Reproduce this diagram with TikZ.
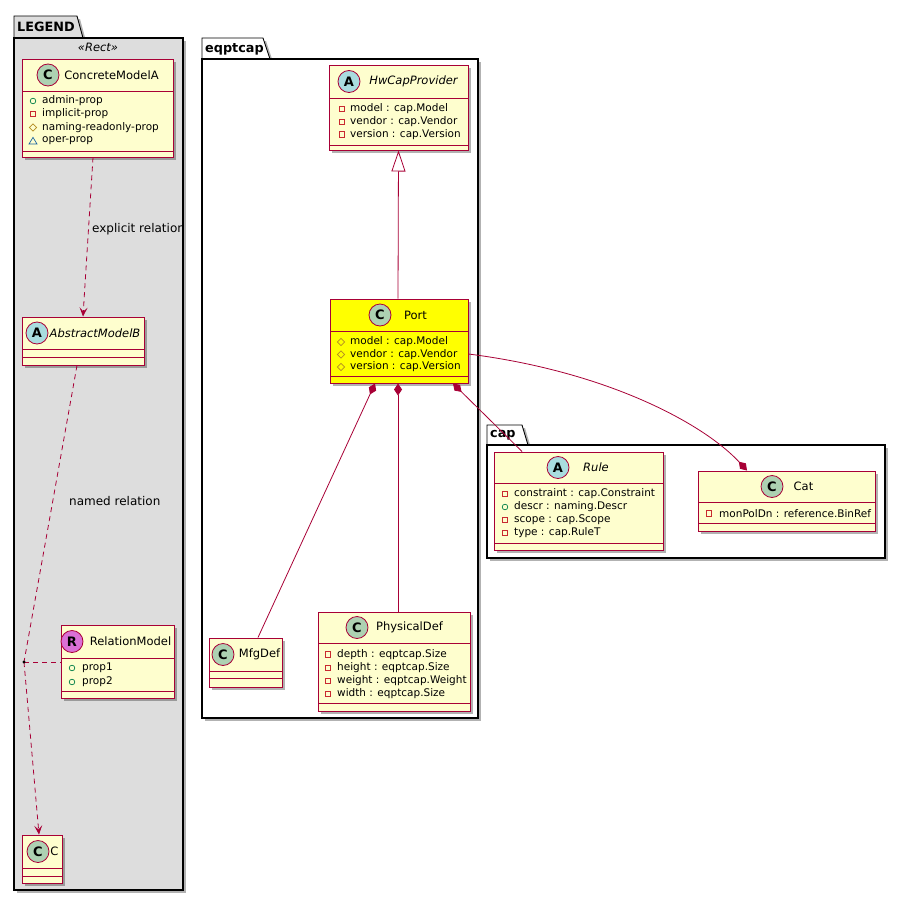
\documentclass[tikz,border=0pt]{standalone}
\usepackage{fontspec}
\setmainfont{DejaVu Sans}
\usetikzlibrary{arrows.meta,shadows}
\definecolor{umlborder}{HTML}{A80036}
\definecolor{umlfill}{HTML}{FEFECE}
\definecolor{spotC}{HTML}{ADD1B2}
\definecolor{spotA}{HTML}{A9DCDF}
\definecolor{spotR}{HTML}{DA70D6}
\definecolor{legendgray}{HTML}{DDDDDD}
\definecolor{pubc}{HTML}{038048}
\definecolor{privc}{HTML}{C82930}
\definecolor{protc}{HTML}{B38D22}
\definecolor{pkgc}{HTML}{1963A0}
\definecolor{portyellow}{HTML}{FFFF00}
\newcommand\umlMem{\fontsize{10.5}{12}\selectfont}
\newcommand\umlName{\fontsize{11.5}{13}\selectfont}
\newcommand\umlLbl{\fontsize{12}{14}\selectfont}
\newcommand\umlPkg{\fontsize{12.8}{14}\selectfont\bfseries}
\newcommand\umlSpot{\fontsize{13}{14}\selectfont\bfseries}
\newcommand\vpub[2]{\draw[draw=pubc,line width=0.7pt] (#1,#2) circle (2.8);}
\newcommand\vpriv[2]{\draw[draw=privc,line width=0.7pt] ({#1-2.8},{#2-2.8}) rectangle ({#1+2.8},{#2+2.8});}
\newcommand\vprot[2]{\draw[draw=protc,line width=0.7pt] ({#1},{#2-3.6}) -- ({#1+3.6},{#2}) -- ({#1},{#2+3.6}) -- ({#1-3.6},{#2}) -- cycle;}
\newcommand\vpkg[2]{\draw[draw=pkgc,line width=0.7pt] ({#1},{#2-3.6}) -- ({#1+4},{#2+3}) -- ({#1-4},{#2+3}) -- cycle;}
\tikzset{
  shade/.style={drop shadow={shadow xshift=3pt,shadow yshift=-3pt,opacity=0.3,fill=black}},
  umlclass/.style={draw=umlborder,fill=umlfill,line width=1pt,inner sep=0pt,shade},
  sepline/.style={draw=umlborder,line width=0.9pt},
  spot/.style={circle,draw=umlborder,line width=0.8pt,minimum size=22pt,inner sep=0pt,font=\umlSpot},
  clsname/.style={inner sep=0pt,font=\umlName},
  member/.style={anchor=west,inner sep=0pt,font=\umlMem},
  pkgbody/.style={draw=black,line width=1.3pt,inner sep=0pt,shade},
  pkgtab/.style={draw=black,line width=0.9pt,shade},
  pkgtitle/.style={anchor=west,inner sep=0pt,font=\umlPkg},
  edge/.style={draw=umlborder,line width=0.8pt},
  dep/.style={edge,dash pattern=on 5pt off 4pt},
  deptip/.style={-{Stealth[length=9pt,width=8pt,inset=4pt,fill=umlborder]}},
  comp/.style={edge,{Diamond[length=12pt,width=8pt,fill=umlborder]}-},
  compend/.style={edge,-{Diamond[length=12pt,width=8pt,fill=umlborder]}},
  inherit/.style={edge,-{Triangle[length=21pt,width=14pt,fill=white]}},
  lbl/.style={anchor=west,inner sep=0pt,font=\umlLbl},
}
\begin{document}
\begin{tikzpicture}[x=1pt,y=-1pt]
\useasboundingbox (0,0) rectangle (905,902);
\fill[white] (0,0) rectangle (905,902);

% ---------- packages ----------
\path[pkgtab,fill=legendgray] (14,38) -- (14,16) -- (77,16) -- (83,38) -- cycle;
\node[pkgbody,fill=legendgray,minimum width=169pt,minimum height=852pt] (legend) at (98.5,464) {};
\node[pkgtitle] (legendT) at (17,27) {LEGEND};
\node[inner sep=0pt,font=\fontsize{11.5}{13}\selectfont\itshape] (stereo) at (98,47) {«Rect»};

\path[pkgtab,fill=white] (202,59) -- (202,38) -- (263,38) -- (270,59) -- cycle;
\node[pkgbody,fill=white,minimum width=276pt,minimum height=659pt] (eqpt) at (340,388.5) {};
\node[pkgtitle] (eqptT) at (205,49) {eqptcap};

\path[pkgtab,fill=white] (487,445) -- (487,425) -- (522,425) -- (528,445) -- cycle;
\node[pkgbody,fill=white,minimum width=398pt,minimum height=113pt] (cap) at (686,501.5) {};
\node[pkgtitle] (capT) at (490,435) {cap};

% ---------- LEGEND classes ----------
% ConcreteModelA
\node[umlclass,minimum width=151pt,minimum height=98pt] (cma) at (97.5,108) {};
\draw[sepline] (22,91) -- (173,91);
\draw[sepline] (22,151) -- (173,151);
\node[spot,fill=spotC] (cmaS) at (48,75) {C};
\node[clsname] (cmaN) at (111.5,75) {ConcreteModelA};
\vpub{33}{101}\node[member] (cma1) at (42,101) {admin-prop};
\vpriv{33}{114}\node[member] (cma2) at (42,114) {implicit-prop};
\vprot{33}{127.5}\node[member] (cma3) at (42,127.5) {naming-readonly-prop};
\vpkg{33}{141}\node[member] (cma4) at (42,141) {oper-prop};

% AbstractModelB
\node[umlclass,minimum width=122pt,minimum height=48pt] (amb) at (83,341) {};
\draw[sepline] (22,349) -- (144,349);
\draw[sepline] (22,357) -- (144,357);
\node[spot,fill=spotA] (ambS) at (37,333) {A};
\node[clsname,font=\umlName\itshape] (ambN) at (95,333) {AbstractModelB};

% RelationModel
\node[umlclass,minimum width=113pt,minimum height=73pt] (rel) at (117.5,661.5) {};
\draw[sepline] (61,658) -- (174,658);
\draw[sepline] (61,691) -- (174,691);
\node[spot,fill=spotR] (relS) at (72,641.5) {R};
\node[clsname] (relN) at (130.5,641.5) {RelationModel};
\vpub{72}{668}\node[member] (rel1) at (82,668) {prop1};
\vpub{72}{682}\node[member] (rel2) at (82,682) {prop2};

% C
\node[umlclass,minimum width=40pt,minimum height=48pt] (c) at (42,859) {};
\draw[sepline] (22,868) -- (62,868);
\draw[sepline] (22,876) -- (62,876);
\node[spot,fill=spotC] (cS) at (38,851.5) {C};
\node[clsname] (cN) at (54.5,851.5) {C};

% ---------- eqptcap classes ----------
% HwCapProvider
\node[umlclass,minimum width=139pt,minimum height=85pt] (hw) at (398.5,107.5) {};
\draw[sepline] (329,98) -- (468,98);
\draw[sepline] (329,145) -- (468,145);
\node[spot,fill=spotA] (hwS) at (349,81.5) {A};
\node[clsname,font=\umlName\itshape] (hwN) at (413.5,81.5) {HwCapProvider};
\vpriv{342}{109}\node[member] (hw1) at (350,109) {model : cap.Model};
\vpriv{342}{122}\node[member] (hw2) at (350,122) {vendor : cap.Vendor};
\vpriv{342}{134.5}\node[member] (hw3) at (350,134.5) {version : cap.Version};

% Port
\node[umlclass,fill=portyellow,minimum width=138pt,minimum height=84pt] (port) at (399,341) {};
\draw[sepline] (330,331) -- (468,331);
\draw[sepline] (330,376) -- (468,376);
\node[spot,fill=spotC] (portS) at (380,315) {C};
\node[clsname] (portN) at (415.5,315) {Port};
\vprot{341}{342}\node[member] (port1) at (350,342) {model : cap.Model};
\vprot{341}{354.5}\node[member] (port2) at (350,354.5) {vendor : cap.Vendor};
\vprot{341}{367}\node[member] (port3) at (350,367) {version : cap.Version};

% MfgDef
\node[umlclass,minimum width=73pt,minimum height=49pt] (mfg) at (245.5,662.5) {};
\draw[sepline] (209,671) -- (282,671);
\draw[sepline] (209,678) -- (282,678);
\node[spot,fill=spotC] (mfgS) at (223,654.5) {C};
\node[clsname] (mfgN) at (259.5,654.5) {MfgDef};

% PhysicalDef
\node[umlclass,minimum width=152pt,minimum height=99pt] (phys) at (394,661.5) {};
\draw[sepline] (318,643) -- (470,643);
\draw[sepline] (318,703) -- (470,703);
\node[spot,fill=spotC] (physS) at (357,627.5) {C};
\node[clsname] (physN) at (409.5,627.5) {PhysicalDef};
\vpriv{328}{654.5}\node[member] (phys1) at (337,654.5) {depth : eqptcap.Size};
\vpriv{328}{668}\node[member] (phys2) at (337,668) {height : eqptcap.Size};
\vpriv{328}{681}\node[member] (phys3) at (337,681) {weight : eqptcap.Weight};
\vpriv{328}{694}\node[member] (phys4) at (337,694) {width : eqptcap.Size};

% ---------- cap classes ----------
% Rule
\node[umlclass,minimum width=169pt,minimum height=98pt] (rule) at (578.5,501) {};
\draw[sepline] (494,483) -- (663,483);
\draw[sepline] (494,543) -- (663,543);
\node[spot,fill=spotA] (ruleS) at (558,467.5) {A};
\node[clsname,font=\umlName\itshape] (ruleN) at (596,467.5) {Rule};
\vpriv{505}{494}\node[member] (rule1) at (514,494) {constraint : cap.Constraint};
\vpub{505}{507}\node[member] (rule2) at (514,507) {descr : naming.Descr};
\vpriv{505}{520}\node[member] (rule3) at (514,520) {scope : cap.Scope};
\vpriv{505}{533}\node[member] (rule4) at (514,533) {type : cap.RuleT};

% Cat
\node[umlclass,minimum width=177pt,minimum height=60pt] (cat) at (786.5,501) {};
\draw[sepline] (698,502) -- (875,502);
\draw[sepline] (698,523) -- (875,523);
\node[spot,fill=spotC] (catS) at (772,486.5) {C};
\node[clsname] (catN) at (803.5,486.5) {Cat};
\vpriv{709}{513.5}\node[member] (cat1) at (719,513.5) {monPolDn : reference.BinRef};

% ---------- connectors ----------
\draw[dep,deptip] ([xshift=-4.5pt]cma.south) -- (amb.north);
\node[lbl] (lblExp) at (92,229) {explicit relation};

\coordinate (mid) at (24,662);
\draw[dep] ([xshift=-6pt]amb.south) -- (mid);
\draw[dep,deptip] (mid) -- ([xshift=-3pt]c.north);
\draw[dep] (mid) -- (rel.west |- mid);
\fill[black] (mid) circle (1.7);
\node[lbl] (lblNamed) at (69,501) {named relation};

\draw[inherit] ([xshift=-1pt]port.north) -- (hw.south);
\draw[comp] ([xshift=-24pt]port.south) -- ([xshift=12.5pt]mfg.north);
\draw[comp] ([xshift=-1pt]port.south) -- ([xshift=4pt]phys.north);
\draw[comp] ([xshift=54pt]port.south) -- ([xshift=-56.5pt]rule.north);
\draw[compend] ([yshift=-13pt]port.east) .. controls (610,372) and (705,425) .. ([xshift=-39.5pt]cat.north);
\end{tikzpicture}
\end{document}
